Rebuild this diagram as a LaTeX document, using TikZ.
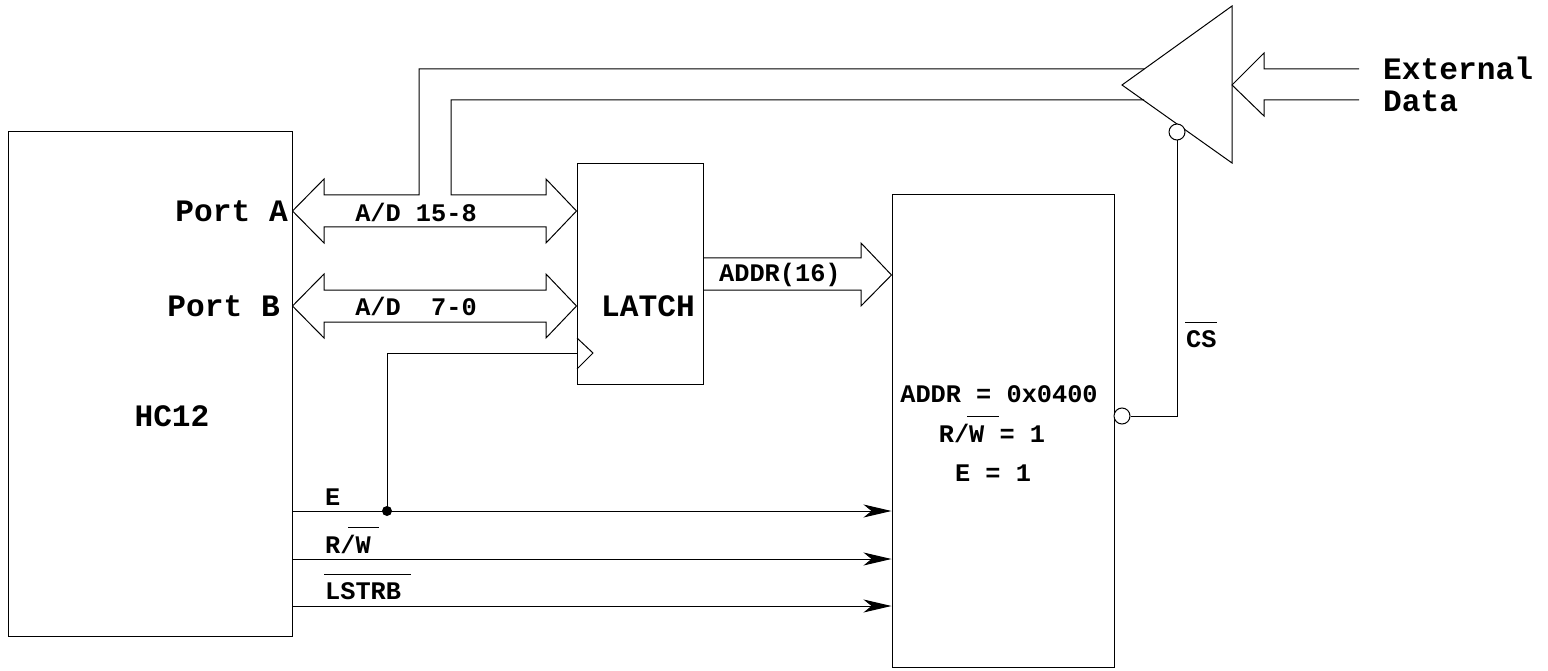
\documentclass[tikz,border=0pt]{standalone}
\usepackage{fontspec}
\setmainfont{Liberation Mono}
\usetikzlibrary{arrows.meta}
\tikzset{
  wire/.style={line width=1pt,line join=miter},
  sigarrow/.style={wire,-{Stealth[length=28pt,width=13pt,inset=8pt]}},
  bubble/.style={draw,circle,line width=1pt,fill=white,minimum size=16pt,inner sep=0pt},
  blockbox/.style={draw,line width=1pt,minimum width=#1,inner sep=0pt},
  bigtxt/.style={font=\fontsize{31.2}{31.2}\selectfont\bfseries,inner sep=0pt},
  smalltxt/.style={font=\fontsize{25.3}{25.3}\selectfont\bfseries,inner sep=0pt},
}
\begin{document}
\begin{tikzpicture}[x=1pt,y=-1pt]
  \useasboundingbox (0,0) rectangle (1548,671);
  % blocks
  \node[blockbox=284pt,minimum height=504pt] (hc12) at (150,384) {};
  \node[blockbox=126pt,minimum height=221pt] (latch) at (640,274) {};
  \node[blockbox=222pt,minimum height=472pt] (decode) at (1003,431) {};
  % tri-state buffer
  \coordinate (bufTip) at (1122,85);
  \coordinate (bufTop) at (1232,6);
  \coordinate (bufBot) at (1232,163);
  \draw[wire] (bufTip) -- (bufTop) -- (bufBot) -- cycle;
  \node[bubble] (bufEn) at (1177,132) {};
  \node[bubble] (csOut) at (1122,416) {};
  % port A bus, splits to the buffer
  \coordinate (busAL) at (hc12.east |- 0,211);
  \coordinate (busAR) at (latch.west |- 0,211);
  \draw[wire] (busAL) -- (324,179) -- (324,195) -- (419,195) -- (419,69) -- (1144,69);
  \draw[wire] (1144,100) -- (451,100) -- (451,195) -- (546,195) -- (546,179) -- (busAR);
  \draw[wire] (busAL) -- (324,243) -- (324,227) -- (546,227) -- (546,243) -- (busAR);
  % port B bus
  \coordinate (busBL) at (hc12.east |- 0,306);
  \coordinate (busBR) at (latch.west |- 0,306);
  \draw[wire] (busBL) -- (324,274) -- (324,290) -- (546,290) -- (546,274) -- (busBR)
    -- (546,338) -- (546,322) -- (324,322) -- (324,338) -- cycle;
  % addr bus
  \coordinate (busCR) at (decode.west |- 0,275);
  \draw[wire] (latch.east |- 0,258) -- (861,258) -- (861,243) -- (busCR)
    -- (861,306) -- (861,290) -- (latch.east |- 0,290);
  % external data
  \coordinate (extTip) at (1232,85);
  \draw[wire] (1359,69) -- (1264,69) -- (1264,53) -- (extTip)
    -- (1264,116) -- (1264,100) -- (1359,100);
  % control lines
  \foreach \y in {511,559,606}
    \draw[sigarrow] (hc12.east |- 0,\y) -- (decode.west |- 0,\y);
  \fill (387,511) circle (5);
  \draw[wire] (387,511) -- (387,353) -- (latch.west |- 0,353);
  \draw[wire] (577,338) -- (593,353) -- (577,369);
  % chip select
  \draw[wire] (csOut) -- (bufEn.south |- csOut) -- (bufEn);
  % labels
  \node[bigtxt,anchor=east] (portA) at (288,211) {Port A};
  \node[bigtxt,anchor=east] (portB) at (280,306) {Port B};
  \node[bigtxt] (hcLbl) at (172,416) {HC12};
  \node[bigtxt] (latchLbl) at (648,306) {LATCH};
  \node[smalltxt] (adHi) at (416,212) {A/D 15-8};
  \node[smalltxt] (adLo) at (416,306) {A/D\ \ 7-0};
  \node[smalltxt,anchor=west] (addrLbl) at (719,275) {ADDR(16)};
  \node[smalltxt,anchor=west] (eLbl) at (325,497) {E};
  \node[smalltxt,anchor=west] (rwLbl) at (325,544) {R/W};
  \node[smalltxt,anchor=west] (lstrbLbl) at (325,591) {LSTRB};
  \draw[wire] (348,527) -- (379,527);
  \draw[wire] (324,574) -- (411,574);
  \node[smalltxt] (eqAddr) at (999,394) {ADDR = 0x0400};
  \node[smalltxt] (eqRw) at (992,433) {R/W = 1};
  \node[smalltxt] (eqE) at (993,473) {E = 1};
  \draw[wire] (967,416) -- (999,416);
  \node[smalltxt,anchor=west] (csLbl) at (1186,339) {CS};
  \draw[wire] (1185,322) -- (1217,322);
  \node[bigtxt,anchor=west] (extLbl) at (1383,68) {External};
  \node[bigtxt,anchor=west] (dataLbl) at (1383,101) {Data};
\end{tikzpicture}
\end{document}
